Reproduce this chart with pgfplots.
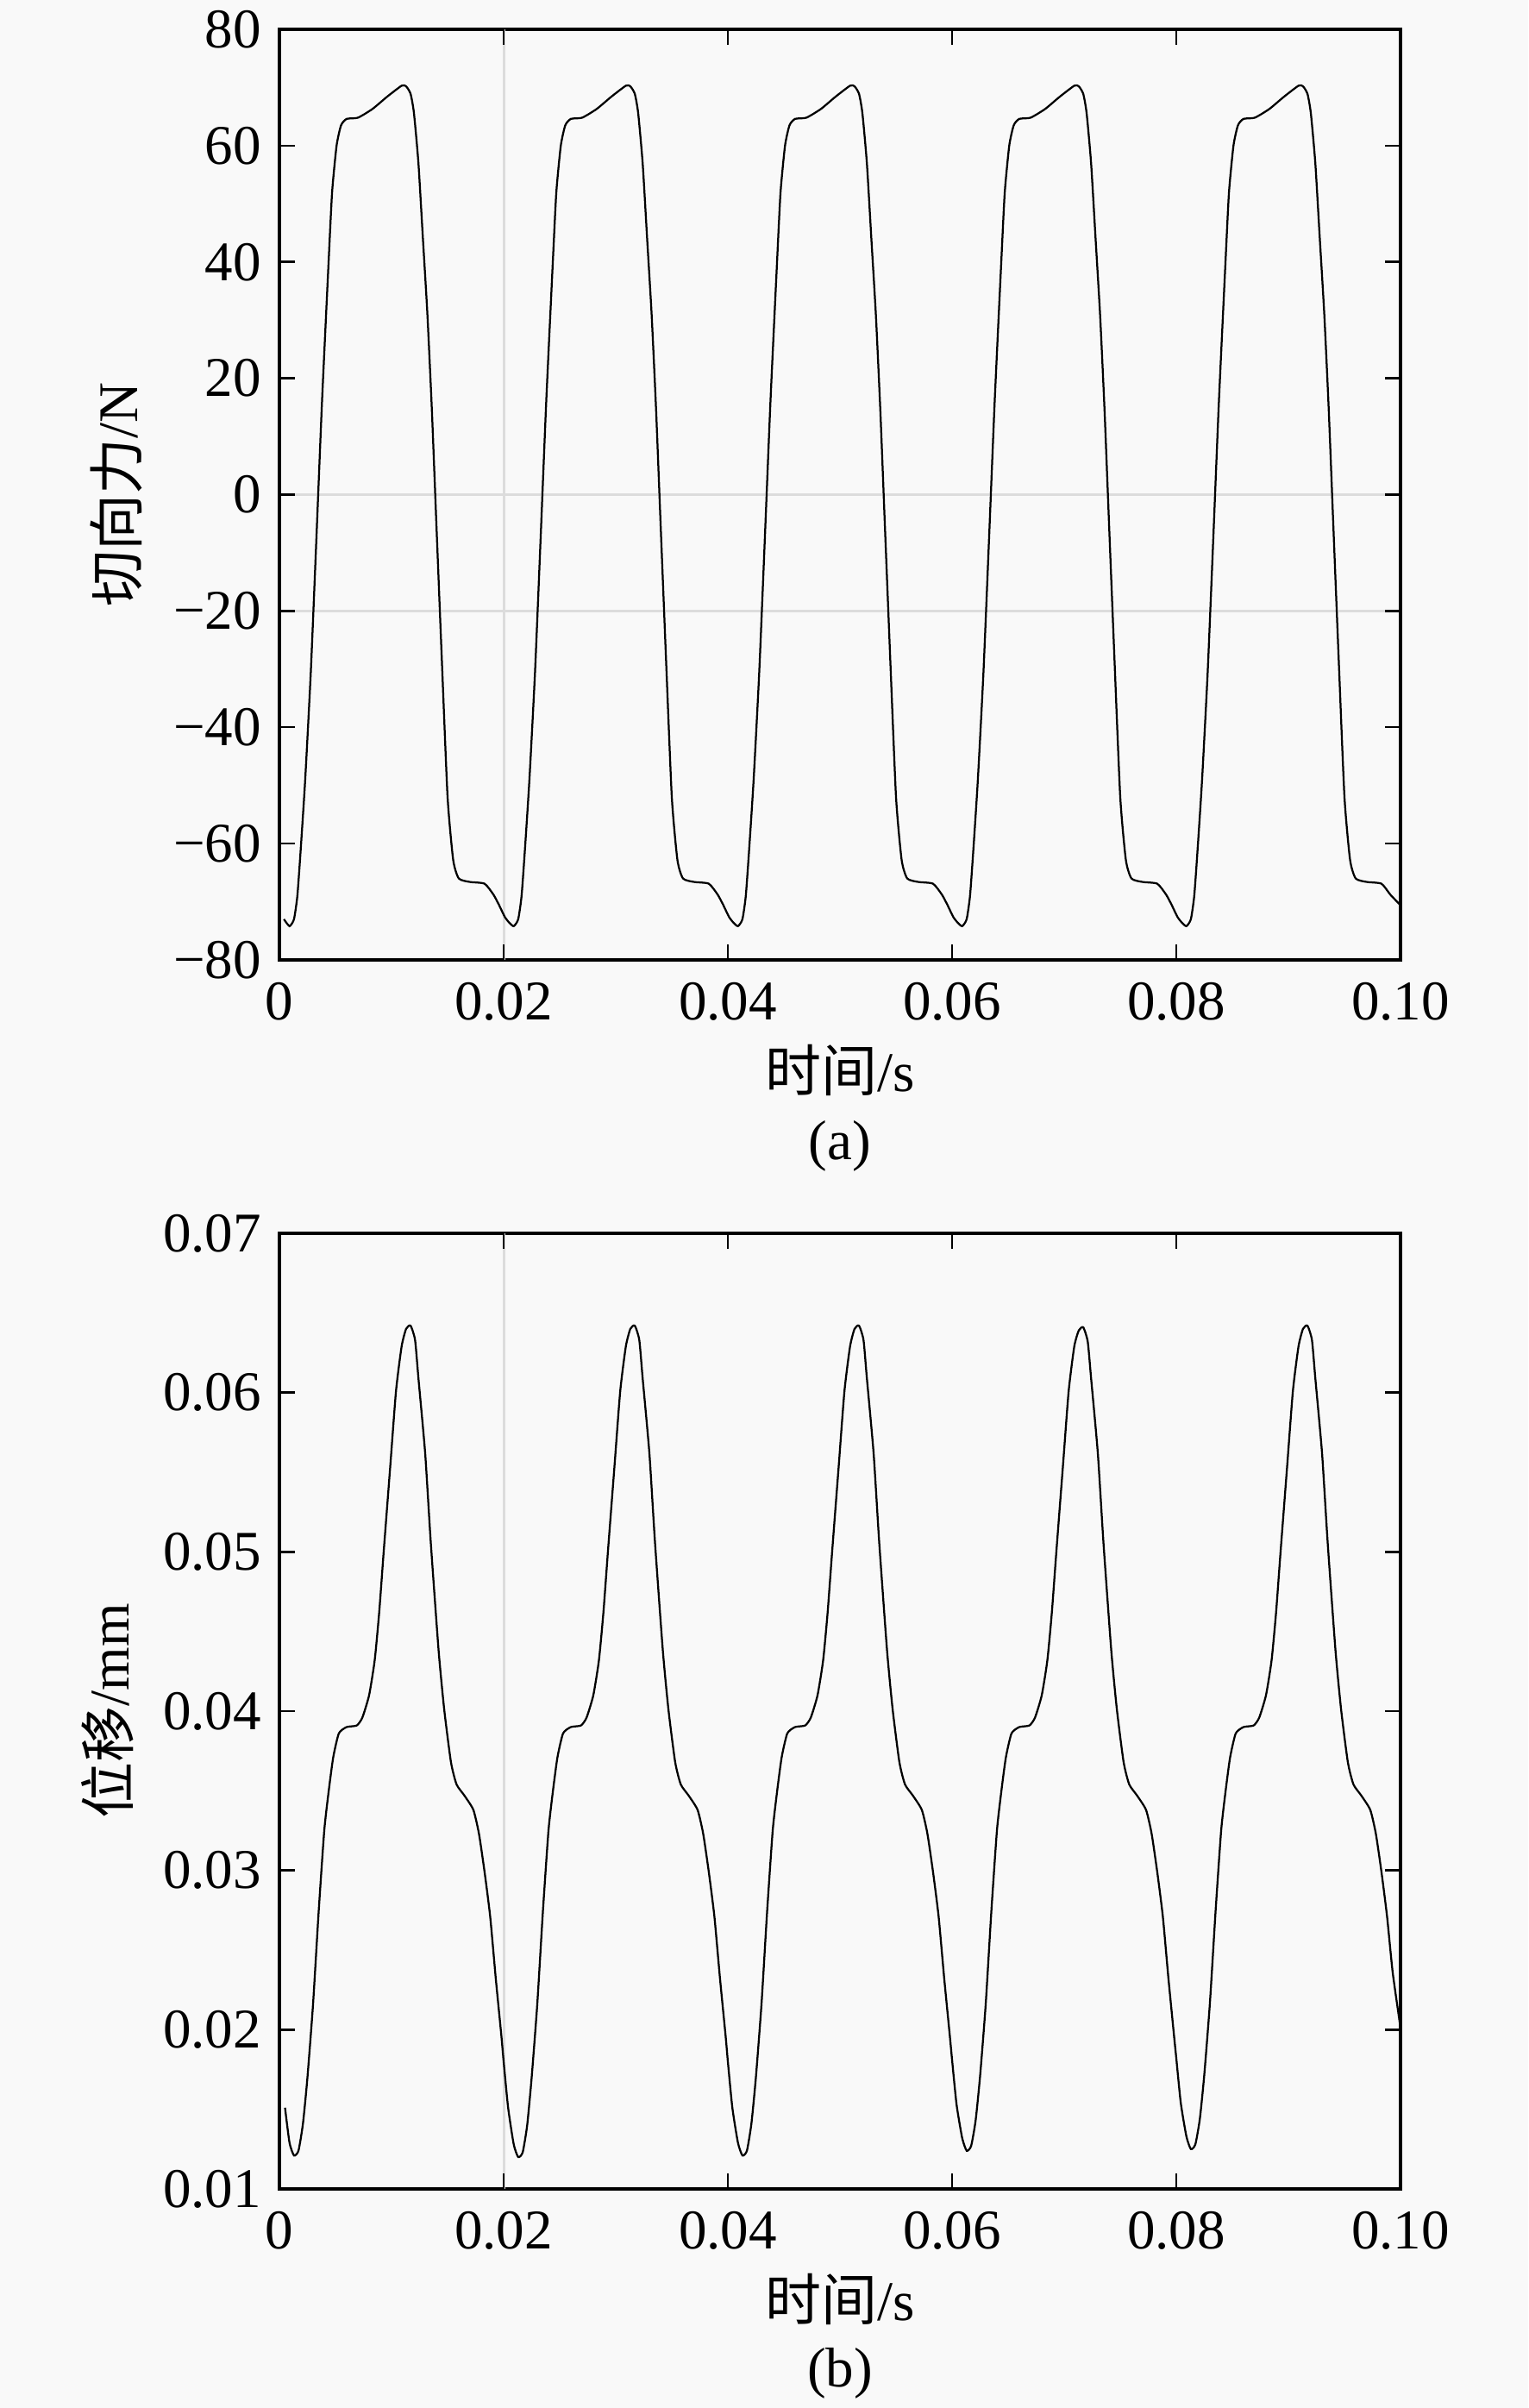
\documentclass[border=0pt]{standalone}
\usepackage{fontspec}
\setmainfont{Liberation Serif}
\newfontfamily\cjk{Noto Sans CJK SC}
\usepackage{pgfplots}
\pgfplotsset{compat=1.18}
\definecolor{bg}{RGB}{249,249,249}
\definecolor{gridc}{RGB}{220,220,220}
\pgfplotsset{
 myaxis/.style={
  scale only axis, width=260pt, xmin=0, xmax=0.1,
  clip mode=individual,
  axis line style={line width=0.7pt},
  tick align=inside, major tick length=3.6pt,
  every tick/.style={black, line width=0.5pt},
  xtick={0,0.02,0.04,0.06,0.08,0.1},
  xticklabels={0,0.02,0.04,0.06,0.08,0.10},
  tick label style={font=\fontsize{13}{15}\selectfont},
  xticklabel style={yshift=-1.8pt},
  yticklabel style={xshift=-0.7pt},
  label style={font=\fontsize{13}{15}\selectfont},
  extra x ticks={0.02}, extra x tick labels={},
  extra tick style={grid=major, major grid style={gridc, line width=0.6pt}},
  scaled ticks=false,
 }
}
\begin{document}
\begin{tikzpicture}
\fill[bg] (0,0) rectangle (354.4pt,558.4pt);
\useasboundingbox (0,0) rectangle (354.4pt,558.4pt);
\begin{axis}[myaxis, at={(64.8pt,335.8pt)}, anchor=south west, height=215.8pt,
  ymin=-80, ymax=80,
  ytick={-80,-60,-40,-20,0,20,40,60,80},
  yticklabels={−80,−60,−40,−20,0,20,40,60,80},
  extra y ticks={0,-20}, extra y tick labels={},
  xlabel={{\cjk 时间}/s},
  xlabel style={at={(axis description cs:0.5,-0.1186)}, anchor=center},
  ylabel={{\cjk 切向力}/N},
  ylabel style={at={(axis description cs:-0.1454,0.5)}, anchor=center},
]
\addplot[black, line width=0.45pt, smooth, tension=0.35] table {
0.0004 -73.0
0.0009 -74.2
0.0013 -73.0
0.0016 -69.0
0.0019 -61
0.0023 -49
0.0028 -30.5
0.0033 -7.5
0.0038 16
0.0044 40.5
0.0047 52
0.0051 60
0.0055 63.5
0.0060 64.6
0.0070 64.8
0.0083 66.3
0.0096 68.4
0.0109 70.3
0.0113 70.2
0.0117 68.9
0.0120 65.6
0.0124 57
0.0128 44
0.0132 31
0.0136 14.5
0.0140 -5
0.0145 -29
0.0150 -52
0.0155 -62.8
0.0160 -66
0.0170 -66.6
0.0183 -66.9
0.0191 -68.8
0.0196 -70.6
0.0201 -72.6
0.0205 -73.6
0.0209 -74.2
0.0213 -73.0
0.0216 -69.0
0.0219 -61
0.0223 -49
0.0228 -30.5
0.0233 -7.5
0.0238 16
0.0244 40.5
0.0247 52
0.0251 60
0.0255 63.5
0.0260 64.6
0.0270 64.8
0.0283 66.3
0.0296 68.4
0.0309 70.3
0.0313 70.2
0.0317 68.9
0.0320 65.6
0.0324 57
0.0328 44
0.0332 31
0.0336 14.5
0.0340 -5
0.0345 -29
0.0350 -52
0.0355 -62.8
0.0360 -66
0.0370 -66.6
0.0383 -66.9
0.0391 -68.8
0.0396 -70.6
0.0401 -72.6
0.0405 -73.6
0.0409 -74.2
0.0413 -73.0
0.0416 -69.0
0.0419 -61
0.0423 -49
0.0428 -30.5
0.0433 -7.5
0.0438 16
0.0444 40.5
0.0447 52
0.0451 60
0.0455 63.5
0.0460 64.6
0.0470 64.8
0.0483 66.3
0.0496 68.4
0.0509 70.3
0.0513 70.2
0.0517 68.9
0.0520 65.6
0.0524 57
0.0528 44
0.0532 31
0.0536 14.5
0.0540 -5
0.0545 -29
0.0550 -52
0.0555 -62.8
0.0560 -66
0.0570 -66.6
0.0583 -66.9
0.0591 -68.8
0.0596 -70.6
0.0601 -72.6
0.0605 -73.6
0.0609 -74.2
0.0613 -73.0
0.0616 -69.0
0.0619 -61
0.0623 -49
0.0628 -30.5
0.0633 -7.5
0.0638 16
0.0644 40.5
0.0647 52
0.0651 60
0.0655 63.5
0.0660 64.6
0.0670 64.8
0.0683 66.3
0.0696 68.4
0.0709 70.3
0.0713 70.2
0.0717 68.9
0.0720 65.6
0.0724 57
0.0728 44
0.0732 31
0.0736 14.5
0.0740 -5
0.0745 -29
0.0750 -52
0.0755 -62.8
0.0760 -66
0.0770 -66.6
0.0783 -66.9
0.0791 -68.8
0.0796 -70.6
0.0801 -72.6
0.0805 -73.6
0.0809 -74.2
0.0813 -73.0
0.0816 -69.0
0.0819 -61
0.0823 -49
0.0828 -30.5
0.0833 -7.5
0.0838 16
0.0844 40.5
0.0847 52
0.0851 60
0.0855 63.5
0.0860 64.6
0.0870 64.8
0.0883 66.3
0.0896 68.4
0.0909 70.3
0.0913 70.2
0.0917 68.9
0.0920 65.6
0.0924 57
0.0928 44
0.0932 31
0.0936 14.5
0.0940 -5
0.0945 -29
0.0950 -52
0.0955 -62.8
0.0960 -66
0.0970 -66.6
0.0983 -66.9
0.0991 -68.8
0.1000 -70.6
};
\node[font=\fontsize{13}{15}\selectfont] at (axis description cs:0.5,-0.2002) {(a)};
\end{axis}
\begin{axis}[myaxis, at={(64.8pt,50.8pt)}, anchor=south west, height=221.6pt,
  ymin=0.01, ymax=0.07,
  ytick={0.01,0.02,0.03,0.04,0.05,0.06,0.07},
  yticklabels={0.01,0.02,0.03,0.04,0.05,0.06,0.07},
  xlabel={{\cjk 时间}/s},
  xlabel style={at={(axis description cs:0.5,-0.1155)}, anchor=center},
  ylabel={{\cjk 位移}/mm},
  ylabel style={at={(axis description cs:-0.153,0.5)}, anchor=center},
]
\addplot[black, line width=0.45pt, smooth, tension=0.35] table {
0.0005 0.0151
0.0009 0.0129
0.0013 0.0121
0.0017 0.0124
0.0021 0.0141
0.0025 0.0170
0.0030 0.0216
0.0035 0.0274
0.0040 0.0325
0.0044 0.0350
0.0048 0.0371
0.0053 0.0386
0.0060 0.0390
0.0069 0.0391
0.0074 0.0396
0.0080 0.0410
0.0085 0.0432
0.0089 0.0462
0.0093 0.0500
0.0099 0.0555
0.0104 0.0601
0.0109 0.0629
0.0113 0.0640
0.0117 0.0642
0.0121 0.0633
0.0124 0.0609
0.0130 0.0562
0.0135 0.0506
0.0142 0.0438
0.0147 0.0401
0.0153 0.0368
0.0158 0.0354
0.0165 0.0347
0.0173 0.0338
0.0178 0.0323
0.0183 0.0299
0.0188 0.0271
0.0193 0.0232
0.0198 0.0196
0.0200 0.0180
0.0204 0.0151
0.0209 0.0128
0.0213 0.0120
0.0217 0.0123
0.0221 0.0140
0.0225 0.0170
0.0230 0.0216
0.0235 0.0274
0.0240 0.0325
0.0244 0.0350
0.0248 0.0371
0.0253 0.0386
0.0260 0.0390
0.0269 0.0391
0.0274 0.0396
0.0280 0.0410
0.0285 0.0432
0.0289 0.0462
0.0293 0.0500
0.0299 0.0555
0.0304 0.0601
0.0309 0.0629
0.0313 0.0640
0.0317 0.0642
0.0321 0.0633
0.0324 0.0609
0.0330 0.0562
0.0335 0.0506
0.0342 0.0438
0.0347 0.0401
0.0353 0.0368
0.0358 0.0354
0.0365 0.0347
0.0373 0.0338
0.0378 0.0323
0.0383 0.0299
0.0388 0.0271
0.0393 0.0232
0.0398 0.0196
0.0400 0.0180
0.0404 0.0151
0.0409 0.0129
0.0413 0.0121
0.0417 0.0124
0.0421 0.0141
0.0425 0.0170
0.0430 0.0216
0.0435 0.0274
0.0440 0.0325
0.0444 0.0350
0.0448 0.0371
0.0453 0.0386
0.0460 0.0390
0.0469 0.0391
0.0474 0.0396
0.0480 0.0410
0.0485 0.0432
0.0489 0.0462
0.0493 0.0500
0.0499 0.0555
0.0504 0.0601
0.0509 0.0629
0.0513 0.0640
0.0517 0.0642
0.0521 0.0633
0.0524 0.0609
0.0530 0.0562
0.0535 0.0506
0.0542 0.0438
0.0547 0.0401
0.0553 0.0368
0.0558 0.0354
0.0565 0.0347
0.0573 0.0338
0.0578 0.0323
0.0583 0.0299
0.0588 0.0271
0.0593 0.0232
0.0598 0.0196
0.0600 0.0181
0.0604 0.0153
0.0609 0.0132
0.0613 0.0124
0.0617 0.0127
0.0621 0.0143
0.0625 0.0171
0.0630 0.0216
0.0635 0.0274
0.0640 0.0325
0.0644 0.0350
0.0648 0.0371
0.0653 0.0386
0.0660 0.0390
0.0669 0.0391
0.0674 0.0396
0.0680 0.0410
0.0685 0.0432
0.0689 0.0462
0.0693 0.0500
0.0699 0.0555
0.0704 0.0601
0.0709 0.0629
0.0713 0.0639
0.0717 0.0641
0.0721 0.0632
0.0724 0.0609
0.0730 0.0562
0.0735 0.0506
0.0742 0.0438
0.0747 0.0401
0.0753 0.0368
0.0758 0.0354
0.0765 0.0347
0.0773 0.0338
0.0778 0.0323
0.0783 0.0299
0.0788 0.0271
0.0793 0.0232
0.0798 0.0196
0.0800 0.0182
0.0804 0.0154
0.0809 0.0133
0.0813 0.0125
0.0817 0.0128
0.0821 0.0144
0.0825 0.0172
0.0830 0.0217
0.0835 0.0274
0.0840 0.0325
0.0844 0.0350
0.0848 0.0371
0.0853 0.0386
0.0860 0.0390
0.0869 0.0391
0.0874 0.0396
0.0880 0.0410
0.0885 0.0432
0.0889 0.0462
0.0893 0.0500
0.0899 0.0555
0.0904 0.0601
0.0909 0.0629
0.0913 0.0640
0.0917 0.0642
0.0921 0.0633
0.0924 0.0609
0.0930 0.0562
0.0935 0.0506
0.0942 0.0438
0.0947 0.0401
0.0953 0.0368
0.0958 0.0354
0.0965 0.0347
0.0973 0.0338
0.0978 0.0323
0.0983 0.0299
0.0988 0.0271
0.0993 0.0236
0.1000 0.0201
};
\node[font=\fontsize{13}{15}\selectfont] at (axis description cs:0.5,-0.193) {(b)};
\end{axis}
\end{tikzpicture}
\end{document}
